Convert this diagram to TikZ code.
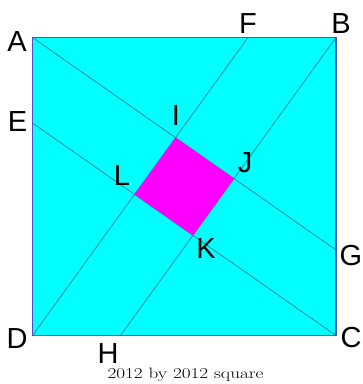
\documentclass[tikz,border=0pt]{standalone}
\usepackage{fontspec}
\setmainfont{Latin Modern Roman}
\newfontfamily\labelfont{Liberation Sans}
\usetikzlibrary{calc}
\definecolor{sqfill}{RGB}{0,255,255}
\definecolor{sqborder}{RGB}{80,80,200}
\definecolor{lineteal}{RGB}{40,140,160}
\definecolor{inner}{RGB}{255,0,255}
\tikzset{
  pt/.style={inner sep=0pt, font=\labelfont\fontsize{29}{30}\selectfont, text=black},
  cut/.style={draw=lineteal, line width=0.8pt},
}
\begin{document}
\begin{tikzpicture}[x=1pt,y=-1pt]
\useasboundingbox (0,0) rectangle (363,384);
\fill[white] (0,0) rectangle (363,384);
\coordinate (A) at (32.5,37.5);
\coordinate (B) at (336,37.5);
\coordinate (C) at (336,335.5);
\coordinate (D) at (32.5,335.5);
\coordinate (F) at ($(A)!0.71!(B)$);
\coordinate (G) at ($(B)!0.713!(C)$);
\coordinate (H) at ($(D)!0.29!(C)$);
\coordinate (E) at ($(A)!0.287!(D)$);
\coordinate (I) at (intersection of A--G and D--F);
\coordinate (J) at (intersection of A--G and H--B);
\coordinate (K) at (intersection of E--C and H--B);
\coordinate (L) at (intersection of E--C and D--F);
\fill[sqfill] (A) -- (B) -- (C) -- (D) -- cycle;
\draw[cut] (A) -- (G);
\draw[cut] (E) -- (C);
\draw[cut] (D) -- (F);
\draw[cut] (H) -- (B);
\fill[inner] (I) -- (J) -- (K) -- (L) -- cycle;
\draw[sqborder, line width=1.3pt] (A) -- (B) -- (C) -- (D) -- cycle;
\node[pt] (lA) at (17,42) {A};
\node[pt] (lB) at (341,24) {B};
\node[pt] (lC) at (351,338) {C};
\node[pt] (lD) at (17,339) {D};
\node[pt] (lE) at (17.5,121.5) {E};
\node[pt] (lF) at (248,24) {F};
\node[pt] (lG) at (351,256) {G};
\node[pt] (lH) at (108,353.5) {H};
\node[pt] (lI) at (176,116) {I};
\node[pt] (lJ) at (245,163) {J};
\node[pt] (lK) at (206,249) {K};
\node[pt] (lL) at (122,176) {L};
\node[inner sep=0pt] (cap) at (185.5,375.3) {\scalebox{1.28}[1]{\fontsize{15}{18}\selectfont 2012 by 2012 square}};
\end{tikzpicture}
\end{document}
